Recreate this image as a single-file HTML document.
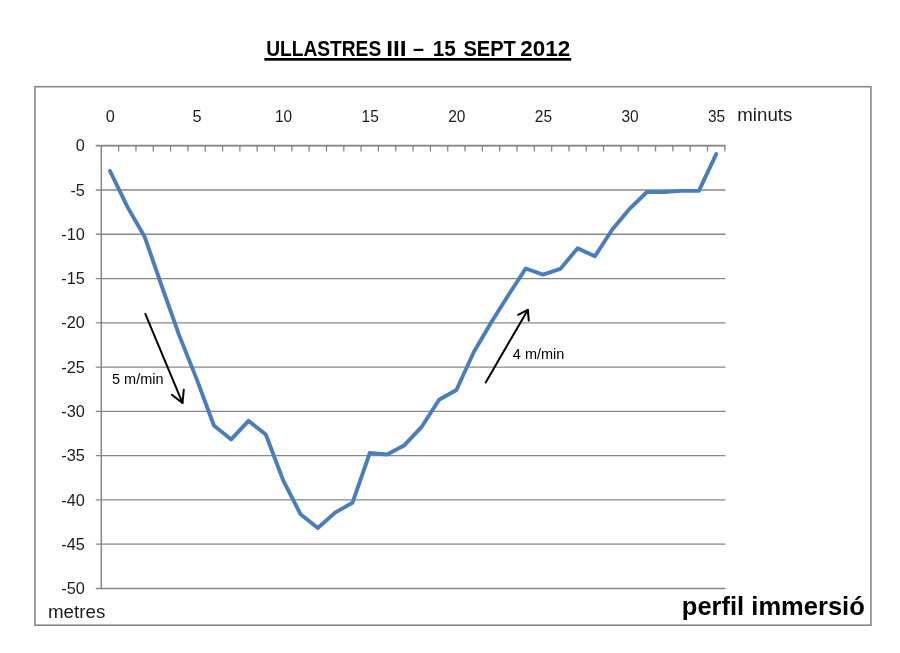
<!DOCTYPE html>
<html><head><meta charset="utf-8"><title>ULLASTRES III</title>
<style>html,body{margin:0;padding:0;background:#fff;}body{width:900px;height:653px;overflow:hidden;font-family:"Liberation Sans",sans-serif;}svg{display:block;will-change:transform;}text{font-family:"Liberation Sans",sans-serif;}</style></head><body>
<svg width="900" height="653" viewBox="0 0 900 653">
<rect x="0" y="0" width="900" height="653" fill="#ffffff"/>
<rect x="35" y="86.7" width="835.9" height="538.5" fill="none" stroke="#878787" stroke-width="1.6"/>
<line x1="95.80" y1="145.70" x2="725.45" y2="145.70" stroke="#878787" stroke-width="1.3"/>
<line x1="95.80" y1="189.98" x2="725.45" y2="189.98" stroke="#878787" stroke-width="1.3"/>
<line x1="95.80" y1="234.26" x2="725.45" y2="234.26" stroke="#878787" stroke-width="1.3"/>
<line x1="95.80" y1="278.54" x2="725.45" y2="278.54" stroke="#878787" stroke-width="1.3"/>
<line x1="95.80" y1="322.82" x2="725.45" y2="322.82" stroke="#878787" stroke-width="1.3"/>
<line x1="95.80" y1="367.10" x2="725.45" y2="367.10" stroke="#878787" stroke-width="1.3"/>
<line x1="95.80" y1="411.38" x2="725.45" y2="411.38" stroke="#878787" stroke-width="1.3"/>
<line x1="95.80" y1="455.66" x2="725.45" y2="455.66" stroke="#878787" stroke-width="1.3"/>
<line x1="95.80" y1="499.94" x2="725.45" y2="499.94" stroke="#878787" stroke-width="1.3"/>
<line x1="95.80" y1="544.22" x2="725.45" y2="544.22" stroke="#878787" stroke-width="1.3"/>
<line x1="95.80" y1="588.50" x2="725.45" y2="588.50" stroke="#878787" stroke-width="1.3"/>
<line x1="101.30" y1="145.00" x2="101.30" y2="588.80" stroke="#878787" stroke-width="1.5"/>
<line x1="95.80" y1="145.70" x2="725.45" y2="145.70" stroke="#878787" stroke-width="1.7"/>
<line x1="118.62" y1="145.70" x2="118.62" y2="151.50" stroke="#878787" stroke-width="1.3"/>
<line x1="135.94" y1="145.70" x2="135.94" y2="151.50" stroke="#878787" stroke-width="1.3"/>
<line x1="153.26" y1="145.70" x2="153.26" y2="151.50" stroke="#878787" stroke-width="1.3"/>
<line x1="170.58" y1="145.70" x2="170.58" y2="151.50" stroke="#878787" stroke-width="1.3"/>
<line x1="187.90" y1="145.70" x2="187.90" y2="151.50" stroke="#878787" stroke-width="1.3"/>
<line x1="205.23" y1="145.70" x2="205.23" y2="151.50" stroke="#878787" stroke-width="1.3"/>
<line x1="222.55" y1="145.70" x2="222.55" y2="151.50" stroke="#878787" stroke-width="1.3"/>
<line x1="239.87" y1="145.70" x2="239.87" y2="151.50" stroke="#878787" stroke-width="1.3"/>
<line x1="257.19" y1="145.70" x2="257.19" y2="151.50" stroke="#878787" stroke-width="1.3"/>
<line x1="274.51" y1="145.70" x2="274.51" y2="151.50" stroke="#878787" stroke-width="1.3"/>
<line x1="291.83" y1="145.70" x2="291.83" y2="151.50" stroke="#878787" stroke-width="1.3"/>
<line x1="309.15" y1="145.70" x2="309.15" y2="151.50" stroke="#878787" stroke-width="1.3"/>
<line x1="326.47" y1="145.70" x2="326.47" y2="151.50" stroke="#878787" stroke-width="1.3"/>
<line x1="343.79" y1="145.70" x2="343.79" y2="151.50" stroke="#878787" stroke-width="1.3"/>
<line x1="361.11" y1="145.70" x2="361.11" y2="151.50" stroke="#878787" stroke-width="1.3"/>
<line x1="378.43" y1="145.70" x2="378.43" y2="151.50" stroke="#878787" stroke-width="1.3"/>
<line x1="395.75" y1="145.70" x2="395.75" y2="151.50" stroke="#878787" stroke-width="1.3"/>
<line x1="413.08" y1="145.70" x2="413.08" y2="151.50" stroke="#878787" stroke-width="1.3"/>
<line x1="430.40" y1="145.70" x2="430.40" y2="151.50" stroke="#878787" stroke-width="1.3"/>
<line x1="447.72" y1="145.70" x2="447.72" y2="151.50" stroke="#878787" stroke-width="1.3"/>
<line x1="465.04" y1="145.70" x2="465.04" y2="151.50" stroke="#878787" stroke-width="1.3"/>
<line x1="482.36" y1="145.70" x2="482.36" y2="151.50" stroke="#878787" stroke-width="1.3"/>
<line x1="499.68" y1="145.70" x2="499.68" y2="151.50" stroke="#878787" stroke-width="1.3"/>
<line x1="517.00" y1="145.70" x2="517.00" y2="151.50" stroke="#878787" stroke-width="1.3"/>
<line x1="534.32" y1="145.70" x2="534.32" y2="151.50" stroke="#878787" stroke-width="1.3"/>
<line x1="551.64" y1="145.70" x2="551.64" y2="151.50" stroke="#878787" stroke-width="1.3"/>
<line x1="568.96" y1="145.70" x2="568.96" y2="151.50" stroke="#878787" stroke-width="1.3"/>
<line x1="586.28" y1="145.70" x2="586.28" y2="151.50" stroke="#878787" stroke-width="1.3"/>
<line x1="603.60" y1="145.70" x2="603.60" y2="151.50" stroke="#878787" stroke-width="1.3"/>
<line x1="620.93" y1="145.70" x2="620.93" y2="151.50" stroke="#878787" stroke-width="1.3"/>
<line x1="638.25" y1="145.70" x2="638.25" y2="151.50" stroke="#878787" stroke-width="1.3"/>
<line x1="655.57" y1="145.70" x2="655.57" y2="151.50" stroke="#878787" stroke-width="1.3"/>
<line x1="672.89" y1="145.70" x2="672.89" y2="151.50" stroke="#878787" stroke-width="1.3"/>
<line x1="690.21" y1="145.70" x2="690.21" y2="151.50" stroke="#878787" stroke-width="1.3"/>
<line x1="707.53" y1="145.70" x2="707.53" y2="151.50" stroke="#878787" stroke-width="1.3"/>
<line x1="724.85" y1="145.70" x2="724.85" y2="151.50" stroke="#878787" stroke-width="1.3"/>
<polyline points="110.0,171.0 127.3,206.6 144.6,236.7 161.9,286.5 179.2,335.4 196.6,378.9 213.9,425.5 231.2,439.4 248.5,420.9 265.8,434.5 283.2,480.4 300.5,514.2 317.8,528.0 335.1,512.6 352.5,502.7 369.8,453.0 387.1,454.5 404.4,445.2 421.7,426.8 439.1,399.7 456.4,390.0 473.7,352.2 491.0,322.8 508.3,295.3 525.7,268.5 543.0,274.7 560.3,268.9 577.6,248.2 594.9,256.3 612.3,229.5 629.6,208.8 646.9,192.0 664.2,192.0 681.5,190.9 698.9,190.9 716.2,154.1" fill="none" stroke="#4a7ebb" stroke-width="3.9" stroke-linejoin="round" stroke-linecap="round"/>
<text x="110.4" y="122.0" font-size="16.3" text-anchor="middle" fill="#1c1c1c">0</text>
<text x="197.0" y="122.0" font-size="16.3" text-anchor="middle" fill="#1c1c1c">5</text>
<text x="283.6" y="122.0" font-size="16.3" text-anchor="middle" textLength="17.2" lengthAdjust="spacingAndGlyphs" fill="#1c1c1c">10</text>
<text x="370.2" y="122.0" font-size="16.3" text-anchor="middle" textLength="17.2" lengthAdjust="spacingAndGlyphs" fill="#1c1c1c">15</text>
<text x="456.8" y="122.0" font-size="16.3" text-anchor="middle" textLength="17.2" lengthAdjust="spacingAndGlyphs" fill="#1c1c1c">20</text>
<text x="543.4" y="122.0" font-size="16.3" text-anchor="middle" textLength="17.2" lengthAdjust="spacingAndGlyphs" fill="#1c1c1c">25</text>
<text x="630.0" y="122.0" font-size="16.3" text-anchor="middle" textLength="17.2" lengthAdjust="spacingAndGlyphs" fill="#1c1c1c">30</text>
<text x="716.6" y="122.0" font-size="16.3" text-anchor="middle" textLength="17.2" lengthAdjust="spacingAndGlyphs" fill="#1c1c1c">35</text>
<text x="84.9" y="151.3" font-size="16.3" text-anchor="end" fill="#1c1c1c">0</text>
<text x="84.9" y="195.6" font-size="16.3" text-anchor="end" fill="#1c1c1c">-5</text>
<text x="84.9" y="239.9" font-size="16.3" text-anchor="end" fill="#1c1c1c">-10</text>
<text x="84.9" y="284.1" font-size="16.3" text-anchor="end" fill="#1c1c1c">-15</text>
<text x="84.9" y="328.4" font-size="16.3" text-anchor="end" fill="#1c1c1c">-20</text>
<text x="84.9" y="372.7" font-size="16.3" text-anchor="end" fill="#1c1c1c">-25</text>
<text x="84.9" y="417.0" font-size="16.3" text-anchor="end" fill="#1c1c1c">-30</text>
<text x="84.9" y="461.3" font-size="16.3" text-anchor="end" fill="#1c1c1c">-35</text>
<text x="84.9" y="505.5" font-size="16.3" text-anchor="end" fill="#1c1c1c">-40</text>
<text x="84.9" y="549.8" font-size="16.3" text-anchor="end" fill="#1c1c1c">-45</text>
<text x="84.9" y="594.1" font-size="16.3" text-anchor="end" fill="#1c1c1c">-50</text>
<text x="737.3" y="121.4" font-size="18" textLength="55" lengthAdjust="spacingAndGlyphs" fill="#1c1c1c">minuts</text>
<text x="48" y="617.6" font-size="18" textLength="57.3" lengthAdjust="spacingAndGlyphs" fill="#1c1c1c">metres</text>
<text x="681.8" y="614.5" font-size="25.5" font-weight="bold" textLength="183" lengthAdjust="spacingAndGlyphs" fill="#000">perfil immersió</text>
<text x="266.2" y="56.3" font-size="22" font-weight="bold" textLength="115" lengthAdjust="spacingAndGlyphs" fill="#000">ULLASTRES</text>
<text x="386.2" y="56.3" font-size="22" font-weight="bold" textLength="20.4" lengthAdjust="spacingAndGlyphs" fill="#000">III</text>
<text x="413.0" y="56.3" font-size="22" font-weight="bold" textLength="11" lengthAdjust="spacingAndGlyphs" fill="#000">–</text>
<text x="432.8" y="56.3" font-size="22" font-weight="bold" textLength="23" lengthAdjust="spacingAndGlyphs" fill="#000">15</text>
<text x="463.4" y="56.3" font-size="22" font-weight="bold" textLength="52.4" lengthAdjust="spacingAndGlyphs" fill="#000">SEPT</text>
<text x="520.3" y="56.3" font-size="22" font-weight="bold" textLength="50" lengthAdjust="spacingAndGlyphs" fill="#000">2012</text>
<rect x="264.4" y="58" width="306.8" height="2.7" fill="#000"/>
<g stroke="#000" stroke-width="2.0" fill="none" stroke-linecap="round" stroke-linejoin="round">
<line x1="145.3" y1="313.8" x2="182.5" y2="402.9"/><polyline points="171.8,394.7 182.5,402.9 183.8,389.7"/>
<line x1="485.7" y1="382.5" x2="527.8" y2="309.9"/><polyline points="518.1,314.8 527.8,309.9 528.8,320.6"/>
</g>
<text x="112" y="383.7" font-size="14.5" fill="#000">5 m/min</text>
<text x="512.8" y="359.1" font-size="14.5" fill="#000">4 m/min</text>
</svg></body></html>
